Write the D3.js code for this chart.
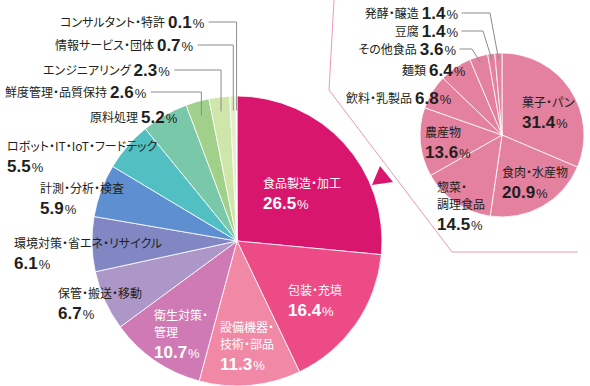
<!DOCTYPE html>
<html>
<head>
<meta charset="utf-8">
<script src="https://cdn.jsdelivr.net/npm/d3@7"></script>
<style>
  body { margin: 0; background: #fff; }
  svg { display: block; }
</style>
</head>
<body>
<svg id="chart" width="590" height="386"></svg>
<script>
// main pie: exhibitors by field (clockwise from 12 o'clock)
const mainCats = ["食品製造・加工", "包装・充填", "設備機器・\n技術・部品", "衛生対策・\n管理", "保管・搬送・移動",
  "環境対策・省エネ・リサイクル", "計測・分析・検査", "ロボット・IT・IoT・フードテック", "原料処理",
  "鮮度管理・品質保持", "エンジニアリング", "情報サービス・団体", "コンサルタント・特許"];
const mainValues = [26.5, 16.4, 11.3, 10.7, 6.7, 6.1, 5.9, 5.5, 5.2, 2.6, 2.3, 0.7, 0.1];

// breakdown of 食品製造・加工
const subCats = ["菓子・パン", "食肉・水産物", "惣菜・\n調理食品", "農産物", "飲料・乳製品", "麺類", "その他食品", "豆腐", "発酵・醸造"];
const subValues = [31.4, 20.9, 14.5, 13.6, 6.8, 6.4, 3.6, 1.4, 1.4];

const mainColors = ["#d8166e", "#ec4b86", "#f088a6", "#cf7ab4", "#ad97c8", "#8087c2", "#5e8fd0",
  "#52bfc3", "#79c8a9", "#a1d08a", "#cfe5aa", "#e3efca", "#f0f5e2"];
const subColor = "#e4819f";

// label placement (centre y of first line)
const mainLayout = [
  { x: 263, y: 183, nl: true, fill: "#fff" },
  { x: 288, y: 290, nl: true, fill: "#fff" },
  { x: 220, y: 327, nl: true, fill: "#fff" },
  { x: 154, y: 315, nl: true, fill: "#fff" },
  { x: 58, y: 293, nl: true },
  { x: 14, y: 243, nl: true },
  { x: 40, y: 188, nl: true },
  { x: 7, y: 146, nl: true },
  { x: 90, y: 117 },
  { x: 5, y: 92, leader: true },
  { x: 43, y: 70, leader: true },
  { x: 55, y: 45, leader: true },
  { x: 60, y: 22, leader: true }
];
const subLayout = [
  { x: 522, y: 102, nl: true },
  { x: 502, y: 172, nl: true },
  { x: 437, y: 187, nl: true },
  { x: 425, y: 132, nl: true },
  { x: 346, y: 98 },
  { x: 402, y: 70 },
  { x: 456, y: 49, end: true, knee: 472 },
  { x: 458, y: 31, end: true, knee: 483 },
  { x: 458, y: 13, end: true, knee: 490 }
];

const svg = d3.select("#chart");
const jp = "'Noto Sans CJK JP', sans-serif";
const num = "'Liberation Sans', Arial, sans-serif";

const main = { cx: 237, cy: 241, r: 145 };
const sub = { cx: 502, cy: 135, r: 82 };

// callout from main slice to sub pie
svg.append("path")
  .attr("d", d3.line()([[334, 0], [329, 90], [452, 252], [578, 252]]))
  .attr("fill", "none")
  .attr("stroke", "#f095b8")
  .attr("stroke-width", 1);

const pie = d3.pie().sort(null).value(d => d);

function drawPie(p, values, colorOf) {
  const g = svg.append("g").attr("transform", `translate(${p.cx},${p.cy})`);
  const arcs = pie(values);
  g.selectAll("path")
    .data(arcs)
    .join("path")
    .attr("d", d3.arc().innerRadius(0).outerRadius(p.r))
    .attr("fill", (d, i) => colorOf(i))
    .attr("stroke", "#fff")
    .attr("stroke-width", 0.8);
  return arcs;
}

const mainArcs = drawPie(main, mainValues, i => mainColors[i]);
const subArcs = drawPie(sub, subValues, () => subColor);

svg.append("polygon")
  .attr("points", "380,166 393,182 372,185")
  .attr("fill", mainColors[0]);

function addLabel(name, value, lay) {
  const fill = lay.fill || "#231f20";
  const lines = name.split("\n");
  const t = svg.append("text")
    .attr("fill", fill)
    .attr("text-anchor", lay.end ? "end" : "start");
  let y = lay.y;
  lines.forEach((ln, k) => {
    if (k > 0) y += 17;
    t.append("tspan")
      .attr("x", lay.x).attr("y", y + 5)
      .attr("font-family", jp).attr("font-size", 12)
      .style("font-feature-settings", "'palt'")
      .text(ln);
  });
  const v = t.append("tspan")
    .attr("font-family", num).attr("font-weight", "bold").attr("font-size", 17);
  if (lay.nl) {
    y += 20;
    v.attr("x", lay.x).attr("y", y + 6);
  } else {
    v.attr("dx", 3).attr("dy", 1);
  }
  v.text(value.toFixed(1));
  t.append("tspan")
    .attr("font-family", num).attr("font-size", 13).attr("dx", 1)
    .text("%");
  return t;
}

const lineColor = "#8c8c8c";

mainCats.forEach((c, i) => {
  const lay = mainLayout[i];
  const t = addLabel(c, mainValues[i], lay);
  if (lay.leader) {
    const bb = t.node().getBBox();
    const [px, py] = d3.arc().innerRadius(main.r * 0.9).outerRadius(main.r * 0.9).centroid(mainArcs[i]);
    const ex = main.cx + px, ey = main.cy + py;
    svg.append("path")
      .attr("d", d3.line()([[bb.x + bb.width + 4, lay.y], [ex, lay.y], [ex, ey]]))
      .attr("fill", "none").attr("stroke", lineColor).attr("stroke-width", 1);
  }
});

subCats.forEach((c, i) => {
  const lay = subLayout[i];
  const t = addLabel(c, subValues[i], lay);
  if (lay.knee) {
    const bb = t.node().getBBox();
    const [px, py] = d3.arc().innerRadius(sub.r * 0.92).outerRadius(sub.r * 0.92).centroid(subArcs[i]);
    svg.append("path")
      .attr("d", d3.line()([[bb.x + bb.width + 3, lay.y], [lay.knee, lay.y], [sub.cx + px, sub.cy + py]]))
      .attr("fill", "none").attr("stroke", lineColor).attr("stroke-width", 1);
  }
});
</script>
</body>
</html>
